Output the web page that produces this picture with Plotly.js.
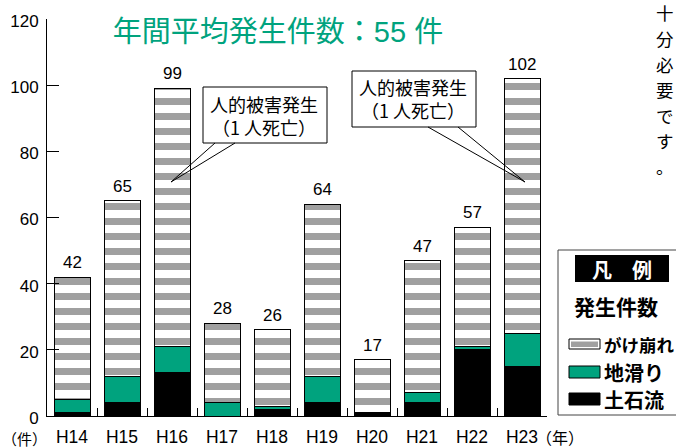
<!DOCTYPE html>
<html>
<head>
<meta charset="utf-8">
<script src="https://cdn.plot.ly/plotly-3.0.1.min.js"></script>
<style>html,body{margin:0;padding:0;background:#fff;overflow:hidden}</style>
</head>
<body>
<div id="chart" style="width:676px;height:448px"></div>
<script>
// Data
const years = ['H14','H15','H16','H17','H18','H19','H20','H21','H22','H23'];
const debrisFlow = [1, 4, 13, 0, 2, 4, 1, 4, 20, 15];      // 土石流
const landslide  = [4, 8, 8, 4, 1, 8, 0, 3, 1, 10];        // 地滑り
const slopeFail  = [37, 53, 78, 24, 23, 52, 16, 40, 36, 77]; // がけ崩れ
const seriesNames = ['土石流', '地滑り', 'がけ崩れ'];
const titleText = '年間平均発生件数：55 件';
const sideText = '十分必要です。';
const calloutText = '人的被害発生<br>（1 人死亡）';

const GREEN = '#00a37e';
const GRAY = '#a0a0a0';
const FONT = 'Liberation Sans, Arial, Noto Sans CJK JP, sans-serif';
const JFONT = 'Noto Sans CJK JP, sans-serif';

const totals = years.map((_, i) => debrisFlow[i] + landslide[i] + slopeFail[i]);

// layout geometry (pixels)
const L = 47, R = 547, T = 19, B = 416;
const px = x => (x - L) / (R - L);
const py = y => (B - y) / (B - T);

const lineStyle = {color: '#000', width: 1};
const traces = [
  {type: 'bar', name: seriesNames[0], x: years, y: debrisFlow, width: 0.72,
   marker: {color: '#000', line: lineStyle}, hoverinfo: 'skip'},
  {type: 'bar', name: seriesNames[1], x: years, y: landslide, width: 0.72,
   marker: {color: GREEN, line: lineStyle}, hoverinfo: 'skip'},
  {type: 'bar', name: seriesNames[2], x: years, y: slopeFail, width: 0.72,
   marker: {color: '#fff', line: lineStyle,
            pattern: {shape: '-', fgcolor: GRAY, bgcolor: '#fff', size: 15, solidity: 0.47}},
   hoverinfo: 'skip'}
];

const annotations = [];
// totals above bars
years.forEach((yr, i) => {
  annotations.push({x: yr, y: totals[i], xref: 'x', yref: 'y', text: String(totals[i]),
    showarrow: false, yanchor: 'bottom', yshift: 3, font: {family: FONT, size: 17, color: '#000'}});
});
// axis unit labels
annotations.push({x: px(1), y: py(438), xref: 'paper', yref: 'paper', text: '（件）', showarrow: false,
  borderpad: 0, xanchor: 'left', yanchor: 'middle', font: {family: JFONT, size: 15, color: '#000'}});
annotations.push({x: px(560), y: py(437), xref: 'paper', yref: 'paper', text: '（年）', showarrow: false,
  borderpad: 0, xanchor: 'center', yanchor: 'middle', font: {family: JFONT, size: 16, color: '#000'}});
// callouts
const callouts = [
  {l: 203, r: 327, t: 87, b: 143, p1: 215, p2: 235, tx: 171, ty: 182},
  {l: 352, r: 476, t: 71, b: 127, p1: 428, p2: 458, tx: 525, ty: 182}
];
const shapes = [];
callouts.forEach(c => {
  shapes.push({type: 'rect', xref: 'paper', yref: 'paper', x0: px(c.l), x1: px(c.r), y0: py(c.b), y1: py(c.t),
    line: {color: '#000', width: 1}, fillcolor: '#fff', layer: 'above'});
  shapes.push({type: 'path', xref: 'paper', yref: 'paper',
    path: `M${px(c.p1)},${py(c.b)} L${px(c.tx)},${py(c.ty)} L${px(c.p2)},${py(c.b)}`,
    line: {color: '#000', width: 1}, layer: 'above'});
  annotations.push({x: px((c.l + c.r) / 2 - 1), y: py((c.t + c.b) / 2), xref: 'paper', yref: 'paper',
    text: calloutText, showarrow: false, xanchor: 'center', yanchor: 'middle',
    font: {family: JFONT, size: 18, color: '#000'}});
});
// side vertical text (one character per annotation, stacked)
Array.from(sideText).forEach((ch, i) => {
  annotations.push({x: px(665), y: py(13 + i * 25.5), xref: 'paper', yref: 'paper', text: ch,
    showarrow: false, borderpad: 0, xanchor: 'center', yanchor: 'middle',
    font: {family: JFONT, size: 17.5, color: '#000'}});
});
// legend
shapes.push({type: 'rect', xref: 'paper', yref: 'paper', x0: px(558), x1: px(690), y0: py(415), y1: py(250),
  line: {color: '#444', width: 1}, fillcolor: 'rgba(0,0,0,0)'});
shapes.push({type: 'rect', xref: 'paper', yref: 'paper', x0: px(575), x1: px(669), y0: py(282), y1: py(255),
  line: {width: 0}, fillcolor: '#000'});
annotations.push({x: px(622), y: py(269), xref: 'paper', yref: 'paper', text: '凡　例', showarrow: false,
  xanchor: 'center', yanchor: 'middle', font: {family: JFONT, size: 20, color: '#fff', weight: 'bold'}});
annotations.push({x: px(572), y: py(306), xref: 'paper', yref: 'paper', text: '発生件数', showarrow: false,
  xanchor: 'left', yanchor: 'middle', font: {family: JFONT, size: 21, color: '#000', weight: 'bold'}});
// swatches
shapes.push({type: 'rect', xref: 'paper', yref: 'paper', x0: px(569), x1: px(600), y0: py(349), y1: py(339),
  line: {color: '#000', width: 1}, fillcolor: '#fff'});
shapes.push({type: 'rect', xref: 'paper', yref: 'paper', x0: px(571), x1: px(598), y0: py(347), y1: py(341.5),
  line: {width: 0}, fillcolor: GRAY});
shapes.push({type: 'rect', xref: 'paper', yref: 'paper', x0: px(569), x1: px(600), y0: py(378), y1: py(366),
  line: {color: '#000', width: 1}, fillcolor: GREEN});
shapes.push({type: 'rect', xref: 'paper', yref: 'paper', x0: px(569), x1: px(600), y0: py(405), y1: py(393),
  line: {color: '#000', width: 1}, fillcolor: '#000'});
const legendY = [344, 372, 399];
const legendSize = [17.5, 20, 20];
[seriesNames[2], seriesNames[1], seriesNames[0]].forEach((n, i) => {
  annotations.push({x: px(603), y: py(legendY[i]), xref: 'paper', yref: 'paper', text: n, showarrow: false,
    borderpad: 0, xanchor: 'left', yanchor: 'middle',
    font: {family: JFONT, size: legendSize[i], color: '#000', weight: 'bold'}});
});

const layout = {
  width: 676, height: 448,
  margin: {l: L, r: 676 - R, t: T, b: 448 - B, pad: 0},
  paper_bgcolor: '#fff', plot_bgcolor: '#fff',
  barmode: 'stack', showlegend: false,
  title: {text: titleText, x: px(278), xref: 'paper', xanchor: 'center',
          y: 1 - 32 / 448, yref: 'container', yanchor: 'middle',
          font: {family: FONT, size: 29, color: GREEN}},
  xaxis: {type: 'category', showline: true, linecolor: '#000', linewidth: 1,
          ticks: 'inside', ticklen: 8, tickcolor: '#000', tickson: 'boundaries',
          showgrid: false, zeroline: false, ticklabelstandoff: 5,
          tickfont: {family: FONT, size: 17.5, color: '#000'}},
  yaxis: {range: [0, 120], tickvals: [0, 20, 40, 60, 80, 100, 120], showline: true, linecolor: '#000', linewidth: 1,
          ticks: 'inside', ticklen: 12, tickcolor: '#000', showgrid: false, zeroline: false,
          ticklabelstandoff: 4, ticklabelshift: 2,
          tickfont: {family: FONT, size: 17, color: '#000'}},
  annotations: annotations,
  shapes: shapes,
  hovermode: false
};

Plotly.newPlot('chart', traces, layout, {staticPlot: true, displayModeBar: false});
</script>
</body>
</html>
